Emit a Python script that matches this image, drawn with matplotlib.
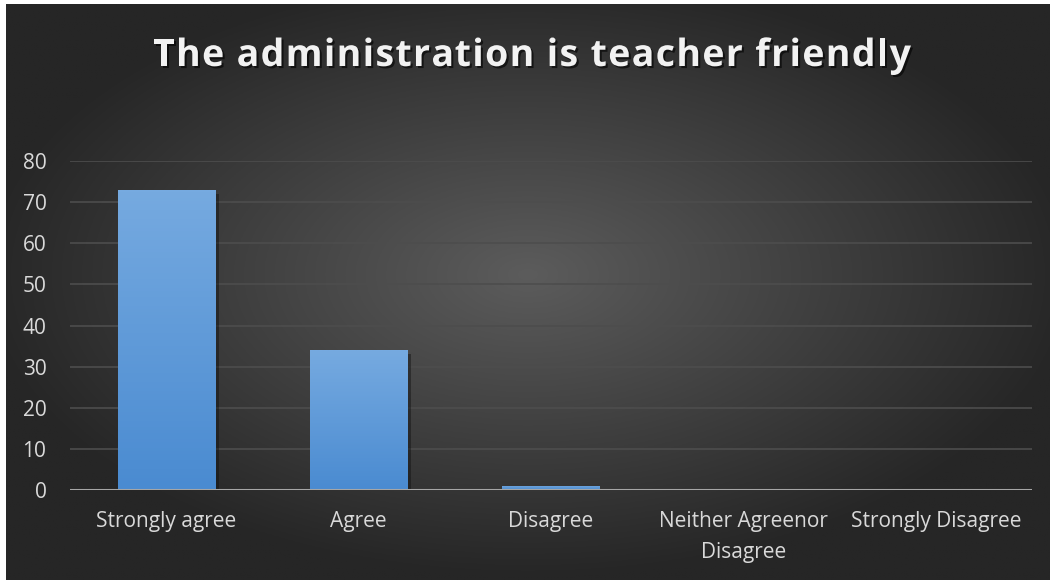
import numpy as np
import matplotlib
matplotlib.use("Agg")
import matplotlib.pyplot as plt
import matplotlib.patheffects as pe
from matplotlib.colors import LinearSegmentedColormap
from matplotlib.textpath import TextToPath
from matplotlib.font_manager import FontProperties

categories = ["Strongly agree", "Agree", "Disagree", "Neither Agreenor\nDisagree", "Strongly Disagree"]
values = [73, 34, 1, 0, 0]
yticks = [0, 10, 20, 30, 40, 50, 60, 70, 80]
title = "The administration is teacher friendly"

W, H = 1050, 580
fig = plt.figure(figsize=(W / 100, H / 100), dpi=100, facecolor="white")

# background with radial gradient
bg = fig.add_axes([6 / W, 0, 1 - 6 / W, 1 - 4 / H])
bg.set_axis_off()
yy, xx = np.mgrid[0:1:300j, 0:1:600j]
r = np.sqrt(((xx - 0.5) / 0.75) ** 2 + ((yy - 0.47) / 0.75) ** 2)
r = np.clip(r / 0.7, 0, 1)
c0 = np.array([0x5c, 0x5c, 0x5c]) / 255
c1 = np.array([0x26, 0x26, 0x26]) / 255
img = c0[None, None, :] * (1 - r[..., None]) + c1[None, None, :] * r[..., None]
bg.imshow(img, aspect="auto", extent=[0, 1, 0, 1], origin="upper")
bg.set_xlim(0, 1)
bg.set_ylim(0, 1)

left, right = 70 / W, 1032 / W
bottom, top = 1 - 490 / H, 1 - 161 / H
ax = fig.add_axes([left, bottom, right - left, top - bottom])
ax.set_facecolor("none")
x = np.arange(len(categories))

for t in yticks[1:]:
    ax.axhline(t, color="#4d4d4d", lw=1.2, zorder=1)

bars = ax.bar(x, values, width=0.505, color="#5b9bd5", zorder=3,
              path_effects=[pe.SimplePatchShadow(offset=(3, -3), shadow_rgbFace="#111111", alpha=0.45), pe.Normal()])
grad = np.linspace(0, 1, 100)[:, None]
cmap = LinearSegmentedColormap.from_list("g", ["#4a8bd1", "#76aae0"])
for b in bars:
    h = b.get_height()
    if h <= 0:
        continue
    xb = b.get_x()
    im = ax.imshow(grad, cmap=cmap, aspect="auto", origin="lower",
                   extent=[xb, xb + b.get_width(), 0, h], zorder=4)
    im.set_clip_path(b)
ax.set_xlim(-0.5, len(categories) - 0.5)
ax.set_ylim(0, 80)

ax.axhline(0, color="#a6a6a6", lw=2.2, zorder=5)

for s in ax.spines.values():
    s.set_visible(False)
ax.set_yticks(yticks)
ax.set_yticklabels([str(v) for v in yticks])
ax.set_xticks(x)
ax.set_xticklabels(categories, linespacing=1.65)
ax.tick_params(axis="both", length=0, colors="#d9d9d9", labelsize=15)
ax.tick_params(axis="y", pad=17)
ax.tick_params(axis="x", pad=15)
for lab in ax.get_xticklabels() + ax.get_yticklabels():
    lab.set_fontfamily("Open Sans")
    lab.set_color("#d9d9d9")

# title with letter spacing, drawn character by character
fp = FontProperties(family="Open Sans", weight="bold", size=27)
t2p = TextToPath()
def width_px(s):
    w, h, d = t2p.get_text_width_height_descent(s, fp, ismath=False)
    return w * 100 / 72
natural = width_px(title)
target = 758
spacing = (target - natural) / (len(title) - 1)
cx = 532
x0 = cx - target / 2
baseline = H - 66
for i, ch in enumerate(title):
    xi = x0 + width_px(title[:i]) + i * spacing if i > 0 else x0
    fig.text(xi / W, baseline / H, ch, ha="left", va="baseline", fontproperties=fp,
             color="#f2f2f2",
             path_effects=[pe.withSimplePatchShadow(offset=(1.5, -1.5), shadow_rgbFace="black", alpha=0.6)])

fig.savefig("out.png", dpi=100, facecolor="white")
